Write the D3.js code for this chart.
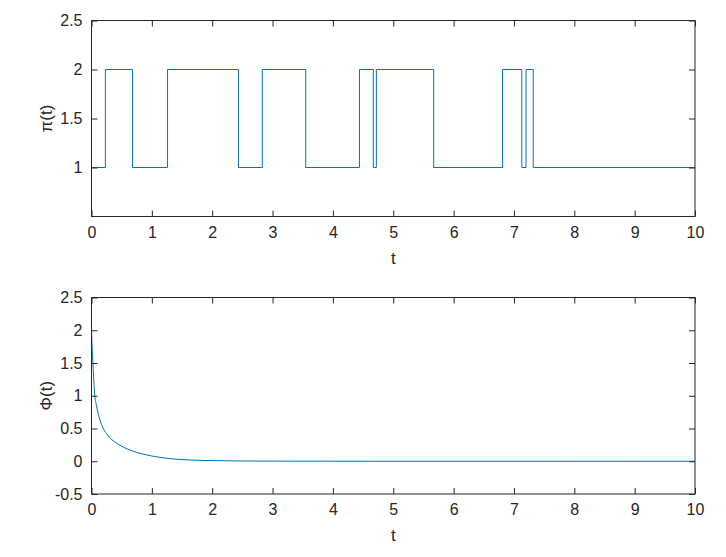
<!DOCTYPE html>
<html>
<head>
<meta charset="utf-8">
<script src="https://cdn.jsdelivr.net/npm/d3@7"></script>
<style>
  body { margin: 0; background: #fff; }
  svg { display: block; }
  text { font-family: "Liberation Sans", Arial, sans-serif; fill: #262626; }
</style>
</head>
<body>
<svg id="chart" width="726" height="557"></svg>
<script>
// switching times of pi(t) and the value held from each time on
const piTimes = [0, 0.23, 0.68, 1.26, 2.435, 2.83, 3.55, 4.44, 4.67, 4.72, 5.67, 6.81, 7.13, 7.2, 7.32, 10];
const piValues = [1, 2, 1, 2, 1, 2, 1, 2, 1, 2, 1, 2, 1, 2, 1, 1];

// Phi(t)
const phiTimes = [0, 0.01, 0.023, 0.04, 0.055, 0.08, 0.1, 0.14, 0.19, 0.25, 0.3, 0.38, 0.47, 0.6, 0.75, 0.9, 1.0, 1.15, 1.3, 1.6, 2.0, 2.5, 3, 4, 5, 6, 7, 8, 9, 10];
const phiValues = [2.0, 1.75, 1.5, 1.2, 1.0, 0.86, 0.77, 0.63, 0.51, 0.42, 0.36, 0.3, 0.245, 0.185, 0.135, 0.1, 0.08, 0.057, 0.04, 0.02, 0.01, 0.004, 0.002, 0.0005, 0, 0, 0, 0, 0, 0];

const xTicks = [0, 1, 2, 3, 4, 5, 6, 7, 8, 9, 10];
const piYTicks = [1, 1.5, 2, 2.5];
const phiYTicks = [-0.5, 0, 0.5, 1, 1.5, 2, 2.5];

const lineColor = '#0072BD';
const axisColor = '#262626';
const fontSize = 16;
const fmt = (d) => String(d); // plain hyphen for negatives, like the original

const svg = d3.select('#chart');

function panel({ top, bottom, yDomain, yTicks, yLabel, xs, ys, curve }) {
  const left = 91.5, right = 695;
  const x = d3.scaleLinear().domain([0, 10]).range([left, right]);
  const y = d3.scaleLinear().domain(yDomain).range([bottom, top]);
  const g = svg.append('g');

  const data = xs.map((t, i) => ({ t, v: ys[i] }));
  g.append('path')
    .datum(data)
    .attr('fill', 'none')
    .attr('stroke', lineColor)
    .attr('stroke-width', 1)
    .attr('d', d3.line().x((d) => x(d.t)).y((d) => y(d.v)).curve(curve));

  // ticks point inward on all four sides, labels only bottom/left
  const tick = 6;
  const styleAxis = (a) => {
    a.select('.domain').remove();
    a.selectAll('.tick line').attr('stroke', axisColor);
  };
  g.append('g')
    .attr('transform', `translate(0,${bottom})`)
    .call(d3.axisBottom(x).tickValues(xTicks).tickSize(-tick).tickPadding(10).tickFormat(fmt))
    .call(styleAxis)
    .call((a) => a.selectAll('text').attr('font-size', fontSize).attr('fill', axisColor).attr('font-family', null));
  g.append('g')
    .attr('transform', `translate(0,${top})`)
    .call(d3.axisTop(x).tickValues(xTicks).tickSize(-tick).tickFormat(''))
    .call(styleAxis);
  g.append('g')
    .attr('transform', `translate(${left},0)`)
    .call(d3.axisLeft(y).tickValues(yTicks).tickSize(-tick).tickPadding(9).tickFormat(fmt))
    .call(styleAxis)
    .call((a) => a.selectAll('text').attr('font-size', fontSize).attr('fill', axisColor).attr('font-family', null));
  g.append('g')
    .attr('transform', `translate(${right},0)`)
    .call(d3.axisRight(y).tickValues(yTicks).tickSize(-tick).tickFormat(''))
    .call(styleAxis);
  g.selectAll('.tick line').attr('stroke-width', 1);
  g.selectAll('.tick text').style('fill', axisColor);

  g.append('rect')
    .attr('x', left).attr('y', top)
    .attr('width', right - left).attr('height', bottom - top)
    .attr('fill', 'none').attr('stroke', axisColor).attr('stroke-width', 1);

  g.append('text')
    .attr('x', (left + right) / 2)
    .attr('y', bottom + 47)
    .attr('text-anchor', 'middle')
    .attr('font-size', 17)
    .text('t');

  g.append('text')
    .attr('transform', `translate(52,${(top + bottom) / 2}) rotate(-90)`)
    .attr('text-anchor', 'middle')
    .attr('font-size', 17)
    .text(yLabel);
}

panel({
  top: 20.5, bottom: 216.5, yDomain: [0.5, 2.5], yTicks: piYTicks,
  yLabel: 'π(t)', xs: piTimes, ys: piValues, curve: d3.curveStepAfter,
});
panel({
  top: 297.5, bottom: 494, yDomain: [-0.5, 2.5], yTicks: phiYTicks,
  yLabel: 'Φ(t)', xs: phiTimes, ys: phiValues, curve: d3.curveMonotoneX,
});
</script>
</body>
</html>
